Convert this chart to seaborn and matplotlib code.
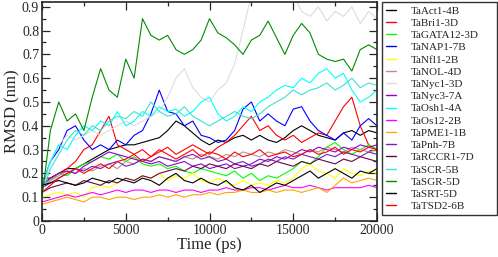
import numpy as np
import pandas as pd
import matplotlib
matplotlib.use("Agg")
import matplotlib.pyplot as plt
import seaborn as sns

# --- Data (every 500 ps) -------------------------------------------------------
TIME = np.arange(0, 20001, 500)

GENES = ["TaAct1-4B", "TaBri1-3D", "TaGATA12-3D", "TaNAP1-7B", "TaNfl1-2B",
         "TaNOL-4D", "TaNyc1-3D", "TaNyc3-7A", "TaOsh1-4A", "TaOs12-2B",
         "TaPME1-1B", "TaPnh-7B", "TaRCCR1-7D", "TaSCR-5B", "TaSGR-5D",
         "TaSRT-5D", "TaTSD2-6B"]

act1 = [0.18, 0.18, 0.20, 0.22, 0.22, 0.24, 0.26, 0.28, 0.30, 0.31, 0.32, 0.32, 0.33, 0.34,
        0.35, 0.38, 0.42, 0.40, 0.37, 0.34, 0.32, 0.34, 0.33, 0.35, 0.36, 0.34, 0.36, 0.34,
        0.33, 0.35, 0.38, 0.40, 0.38, 0.36, 0.35, 0.34, 0.37, 0.38, 0.36, 0.38, 0.37]
bri1 = [0.15, 0.18, 0.20, 0.22, 0.25, 0.30, 0.32, 0.38, 0.44, 0.32, 0.30, 0.28, 0.30, 0.27,
        0.29, 0.31, 0.28, 0.30, 0.32, 0.30, 0.28, 0.31, 0.33, 0.36, 0.40, 0.44, 0.38, 0.40,
        0.36, 0.34, 0.36, 0.33, 0.35, 0.37, 0.36, 0.42, 0.48, 0.52, 0.40, 0.32, 0.30]
gata12 = [0.14, 0.17, 0.20, 0.19, 0.22, 0.24, 0.25, 0.27, 0.26, 0.28, 0.25, 0.27, 0.24, 0.23,
          0.24, 0.22, 0.23, 0.21, 0.20, 0.22, 0.21, 0.20, 0.19, 0.21, 0.18, 0.20, 0.17, 0.19,
          0.18, 0.20, 0.22, 0.25, 0.24, 0.27, 0.31, 0.33, 0.30, 0.28, 0.30, 0.32, 0.30]
nap1 = [0.15, 0.25, 0.30, 0.38, 0.40, 0.34, 0.30, 0.32, 0.30, 0.34, 0.32, 0.36, 0.38, 0.45,
        0.55, 0.46, 0.45, 0.40, 0.42, 0.36, 0.35, 0.33, 0.34, 0.38, 0.47, 0.50, 0.42, 0.45,
        0.42, 0.40, 0.47, 0.48, 0.42, 0.38, 0.36, 0.34, 0.37, 0.34, 0.40, 0.43, 0.40]
nfl1 = [0.10, 0.11, 0.12, 0.11, 0.12, 0.10, 0.14, 0.15, 0.14, 0.16, 0.18, 0.17, 0.19, 0.18,
        0.20, 0.17, 0.19, 0.18, 0.20, 0.17, 0.16, 0.18, 0.16, 0.15, 0.17, 0.15, 0.16, 0.15,
        0.17, 0.16, 0.18, 0.22, 0.24, 0.21, 0.20, 0.18, 0.22, 0.20, 0.19, 0.21, 0.20]
nol = [0.14, 0.17, 0.19, 0.21, 0.20, 0.22, 0.21, 0.23, 0.24, 0.22, 0.25, 0.24, 0.26, 0.25,
       0.27, 0.26, 0.25, 0.27, 0.26, 0.28, 0.27, 0.26, 0.28, 0.27, 0.29, 0.28, 0.27, 0.29,
       0.28, 0.30, 0.29, 0.28, 0.30, 0.29, 0.31, 0.30, 0.29, 0.31, 0.30, 0.29, 0.30]
nyc1 = [0.12, 0.25, 0.32, 0.36, 0.34, 0.36, 0.38, 0.36, 0.38, 0.40, 0.42, 0.40, 0.42, 0.44,
        0.46, 0.52, 0.60, 0.64, 0.56, 0.52, 0.50, 0.55, 0.58, 0.66, 0.80, 0.95, 1.00, 1.02,
        1.00, 0.98, 0.95, 0.88, 0.86, 0.90, 0.84, 0.88, 0.86, 0.90, 0.83, 0.88, 0.85]
nyc3 = [0.15, 0.18, 0.20, 0.21, 0.20, 0.23, 0.25, 0.27, 0.29, 0.28, 0.27, 0.26, 0.25, 0.24,
        0.25, 0.23, 0.24, 0.25, 0.23, 0.24, 0.22, 0.23, 0.24, 0.22, 0.23, 0.24, 0.26, 0.25,
        0.27, 0.26, 0.28, 0.30, 0.29, 0.31, 0.30, 0.29, 0.31, 0.30, 0.32, 0.31, 0.32]
osh1 = [0.15, 0.25, 0.32, 0.30, 0.36, 0.40, 0.38, 0.42, 0.40, 0.46, 0.40, 0.42, 0.46, 0.44,
        0.48, 0.46, 0.47, 0.44, 0.46, 0.50, 0.52, 0.45, 0.42, 0.44, 0.48, 0.46, 0.50, 0.52,
        0.55, 0.57, 0.56, 0.60, 0.58, 0.62, 0.64, 0.60, 0.62, 0.55, 0.50, 0.52, 0.55]
os12 = [0.08, 0.09, 0.10, 0.11, 0.10, 0.11, 0.12, 0.11, 0.12, 0.13, 0.12, 0.13, 0.13, 0.12,
        0.13, 0.13, 0.12, 0.13, 0.13, 0.12, 0.13, 0.13, 0.14, 0.13, 0.13, 0.14, 0.14, 0.13,
        0.14, 0.15, 0.14, 0.14, 0.15, 0.14, 0.13, 0.14, 0.14, 0.14, 0.14, 0.15, 0.14]
pme1 = [0.07, 0.08, 0.09, 0.10, 0.09, 0.08, 0.10, 0.10, 0.09, 0.10, 0.10, 0.09, 0.10, 0.10,
        0.11, 0.10, 0.11, 0.10, 0.11, 0.11, 0.12, 0.11, 0.12, 0.12, 0.13, 0.12, 0.12, 0.13,
        0.12, 0.13, 0.13, 0.12, 0.13, 0.14, 0.12, 0.15, 0.18, 0.16, 0.17, 0.18, 0.17]
pnh = [0.14, 0.16, 0.18, 0.20, 0.22, 0.21, 0.23, 0.22, 0.24, 0.25, 0.23, 0.24, 0.26, 0.25,
       0.27, 0.26, 0.25, 0.27, 0.28, 0.26, 0.27, 0.25, 0.26, 0.24, 0.25, 0.23, 0.24, 0.26,
       0.25, 0.27, 0.26, 0.28, 0.27, 0.26, 0.28, 0.27, 0.29, 0.28, 0.27, 0.29, 0.28]
rccr1 = [0.12, 0.14, 0.15, 0.16, 0.15, 0.17, 0.16, 0.15, 0.17, 0.16, 0.18, 0.17, 0.19, 0.18,
         0.20, 0.21, 0.22, 0.21, 0.23, 0.22, 0.24, 0.23, 0.22, 0.24, 0.23, 0.22, 0.24, 0.23,
         0.25, 0.24, 0.23, 0.25, 0.24, 0.26, 0.25, 0.24, 0.26, 0.25, 0.27, 0.26, 0.25]
scr = [0.12, 0.22, 0.28, 0.34, 0.38, 0.36, 0.40, 0.38, 0.42, 0.44, 0.43, 0.46, 0.44, 0.50,
       0.46, 0.44, 0.45, 0.48, 0.44, 0.42, 0.40, 0.42, 0.44, 0.46, 0.44, 0.43, 0.45, 0.48,
       0.50, 0.52, 0.55, 0.53, 0.55, 0.56, 0.58, 0.55, 0.57, 0.60, 0.56, 0.58, 0.57]
sgr = [0.10, 0.38, 0.50, 0.42, 0.45, 0.38, 0.52, 0.64, 0.55, 0.52, 0.68, 0.60, 0.85, 0.78,
       0.76, 0.78, 0.72, 0.70, 0.72, 0.76, 0.85, 0.79, 0.77, 0.74, 0.70, 0.76, 0.78, 0.84,
       0.77, 0.70, 0.78, 0.83, 0.79, 0.70, 0.68, 0.67, 0.68, 0.63, 0.72, 0.74, 0.72]
srt = [0.15, 0.16, 0.17, 0.16, 0.15, 0.16, 0.18, 0.17, 0.16, 0.18, 0.17, 0.16, 0.18, 0.17,
       0.15, 0.18, 0.20, 0.17, 0.16, 0.18, 0.16, 0.15, 0.17, 0.14, 0.13, 0.15, 0.12, 0.14,
       0.16, 0.15, 0.17, 0.19, 0.21, 0.18, 0.20, 0.22, 0.20, 0.18, 0.21, 0.20, 0.22]
tsd2 = [0.12, 0.15, 0.18, 0.20, 0.22, 0.20, 0.22, 0.24, 0.22, 0.25, 0.26, 0.28, 0.25, 0.27,
        0.30, 0.28, 0.26, 0.28, 0.30, 0.27, 0.29, 0.28, 0.26, 0.29, 0.27, 0.28, 0.30, 0.27,
        0.28, 0.29, 0.27, 0.28, 0.30, 0.28, 0.29, 0.31, 0.28, 0.30, 0.29, 0.31, 0.30]

SERIES = [act1, bri1, gata12, nap1, nfl1, nol, nyc1, nyc3, osh1, os12,
          pme1, pnh, rccr1, scr, sgr, srt, tsd2]

# Grace-style colour cycle
COLORS = ["#000000", "#ff0000", "#00ff00", "#0000ff", "#ffff00", "#bc8f8f",
          "#dcdcdc", "#9400d3", "#00ffff", "#ff00ff", "#ffa500", "#7221bc",
          "#670748", "#40e0d0", "#008b00", "#000000", "#ff0000"]

df = pd.concat(
    [pd.DataFrame({"time": TIME, "rmsd": vals, "gene": g}) for g, vals in zip(GENES, SERIES)],
    ignore_index=True,
)

# --- Plot ----------------------------------------------------------------------
sns.set_style("ticks")
plt.rcParams["font.family"] = ["Liberation Serif", "DejaVu Serif"]

fig = plt.figure(figsize=(4.98, 2.57), dpi=100)
ax = fig.add_axes([42 / 498, 1 - 221 / 257, (377 - 42) / 498, 219 / 257])

sns.lineplot(data=df, x="time", y="rmsd", hue="gene", hue_order=GENES,
             palette=dict(zip(GENES, COLORS)), linewidth=0.8, ax=ax)

ax.set_xlim(0, 20000)
ax.set_ylim(0, 0.92)
ax.set_xticks([0, 5000, 10000, 15000, 20000])
ax.set_xticks(np.arange(0, 20001, 2500), minor=True)
ax.set_yticks(np.arange(0, 0.91, 0.1))
ax.set_yticks(np.arange(0, 0.91, 0.05), minor=True)
ax.set_yticklabels(["0"] + [f"{v:.1f}" for v in np.arange(0.1, 0.91, 0.1)])
ax.tick_params(which="both", direction="in", top=True, right=True,
               labelsize=10, width=0.9, pad=2)
ax.tick_params(which="major", length=5.5)
ax.tick_params(which="minor", length=3)
for s in ax.spines.values():
    s.set_linewidth(1.2)

ax.set_xlabel("Time (ps)", fontsize=12, labelpad=0)
ax.set_ylabel("RMSD (nm)", fontsize=12, labelpad=1)

leg = ax.legend(loc="upper left",
                bbox_to_anchor=(382 / 498, 1 - 213 / 257, 115 / 498, 211 / 257),
                bbox_transform=fig.transFigure, mode="expand", fontsize=8,
                frameon=True, fancybox=False, edgecolor="black", labelspacing=0.22,
                handlelength=0.9, handletextpad=1.3, borderpad=0.35,
                borderaxespad=0)
leg.get_frame().set_linewidth(1.0)
for line in leg.get_lines():
    line.set_linewidth(1.0)

fig.savefig("out.png", dpi=100)
